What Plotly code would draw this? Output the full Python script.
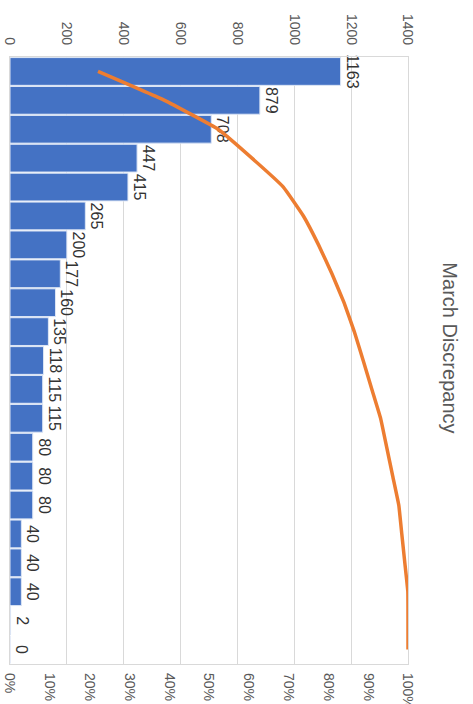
import plotly.graph_objects as go

categories = [str(i) for i in range(1, 22)]
counts = [1163, 879, 708, 447, 415, 265, 200, 177, 160, 135, 118, 115, 115, 80, 80, 80, 40, 40, 40, 2, 0]
cum_pct = [0.2211, 0.3883, 0.5229, 0.6079, 0.6868, 0.7372, 0.7752, 0.8089, 0.8393, 0.8650, 0.8874,
           0.9093, 0.9312, 0.9464, 0.9616, 0.9768, 0.9844, 0.9920, 0.9996, 1.0, 1.0]
value_ticks = [0, 200, 400, 600, 800, 1000, 1200, 1400]
pct_ticks = [i / 10 for i in range(11)]
pct_labels = [f"{i*10}%" for i in range(11)]

FONT = "Liberation Sans"
GRAY = "#595959"

fig = go.Figure()
fig.add_trace(go.Bar(
    x=counts, y=categories, orientation="h",
    marker=dict(color="#4472C4", line=dict(color="#DDE6F5", width=1)),
    text=[str(c) for c in counts], textposition="outside", textangle=90,
    textfont=dict(family=FONT, size=16, color="#333333"),
    cliponaxis=False, xaxis="x", yaxis="y",
))
fig.add_trace(go.Scatter(
    x=cum_pct, y=categories, mode="lines",
    line=dict(color="#ED7D31", width=3.5, shape="spline", smoothing=0.3),
    xaxis="x2", yaxis="y",
))

fig.update_layout(
    width=473, height=704,
    margin=dict(l=10, r=65, t=57, b=40),
    paper_bgcolor="white", plot_bgcolor="white",
    showlegend=False, bargap=0.04,
    xaxis=dict(side="top", range=[0, 1400], tickvals=value_ticks,
               ticktext=[str(v) for v in value_ticks], tickangle=90,
               tickfont=dict(family=FONT, size=14, color=GRAY),
               showgrid=True, gridcolor="#D9D9D9", gridwidth=1,
               zeroline=False, showline=True, linecolor="#D9D9D9", mirror=True,
               ticks="", ticklen=0, automargin=False, ticklabelstandoff=6),
    xaxis2=dict(overlaying="x", side="bottom", range=[0, 1], tickvals=pct_ticks,
                ticktext=pct_labels, tickangle=90,
                tickfont=dict(family=FONT, size=14, color=GRAY),
                showgrid=False, zeroline=False, ticks="", automargin=False,
                ticklabelstandoff=8),
    yaxis=dict(range=[20.5, -0.5], type="category", showticklabels=False, showgrid=False,
               zeroline=False, showline=True, linecolor="#D9D9D9", mirror=True,
               ticks="", automargin=False),
    annotations=[dict(text="March Discrepancy", textangle=90, x=(450 - 10) / (473 - 75),
                      xref="paper", xanchor="center",
                      y=0.52, yref="paper", showarrow=False,
                      font=dict(family=FONT, size=20, color=GRAY))],
)

fig.write_html("out.html")
